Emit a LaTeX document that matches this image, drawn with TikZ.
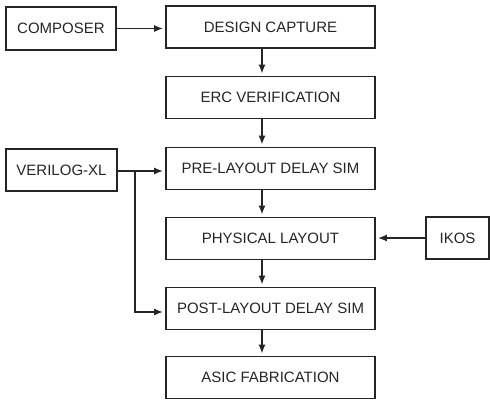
\documentclass[tikz,border=0pt]{standalone}
\usepackage{fontspec}
\setmainfont{Liberation Sans}
\usetikzlibrary{arrows.meta}
\definecolor{ink}{HTML}{252525}
\begin{document}
\begin{tikzpicture}[x=1pt,y=-1pt,
  box/.style={draw=ink,line width=1.6pt,rectangle,inner sep=0pt,
    minimum width=#1,minimum height=42pt,font=\fontsize{15pt}{18pt}\selectfont,text=ink},
  box/.default=209pt,
  arr/.style={draw=ink,line width=1.8pt,-{Latex[length=9pt,width=7pt]},shorten >=2pt}]
\useasboundingbox (0,0) rectangle (490,399);
\node[box] (design) at (270.5,27) {DESIGN CAPTURE};
\node[box] (erc) at (270.5,97.5) {ERC VERIFICATION};
\node[box] (pre) at (270.5,168.5) {PRE-LAYOUT DELAY SIM};
\node[box] (phys) at (270.5,238.5) {PHYSICAL LAYOUT};
\node[box] (post) at (270.5,308.5) {POST-LAYOUT DELAY SIM};
\node[box] (asic) at (270.5,377.5) {ASIC FABRICATION};
\node[box=110pt,minimum height=43pt] (composer) at (61,28.5) {COMPOSER};
\node[box=111pt] (verilog) at (61.5,170) {VERILOG-XL};
\node[box=63pt] (ikos) at (457.5,238) {IKOS};
\draw[arr] (composer.east) -- (composer.east -| design.west);
\draw[arr] ([xshift=-8.5pt]design.south) -- ([xshift=-8.5pt]erc.north);
\draw[arr] ([xshift=-8.5pt]erc.south) -- ([xshift=-8.5pt]pre.north);
\draw[arr] ([xshift=-8.5pt]pre.south) -- ([xshift=-8.5pt]phys.north);
\draw[arr] ([xshift=-8.5pt]phys.south) -- ([xshift=-8.5pt]post.north);
\draw[arr] ([xshift=-8.5pt]post.south) -- ([xshift=-8.5pt]asic.north);
\draw[arr] (ikos.west) -- (ikos.west -| phys.east);
\coordinate (br) at (135,171);
\draw[arr] ([yshift=-1pt]verilog.east) -- ([yshift=-1pt]verilog.east -| pre.west);
\draw[arr] (br) |- ([yshift=-3.5pt]post.west);
\end{tikzpicture}
\end{document}
